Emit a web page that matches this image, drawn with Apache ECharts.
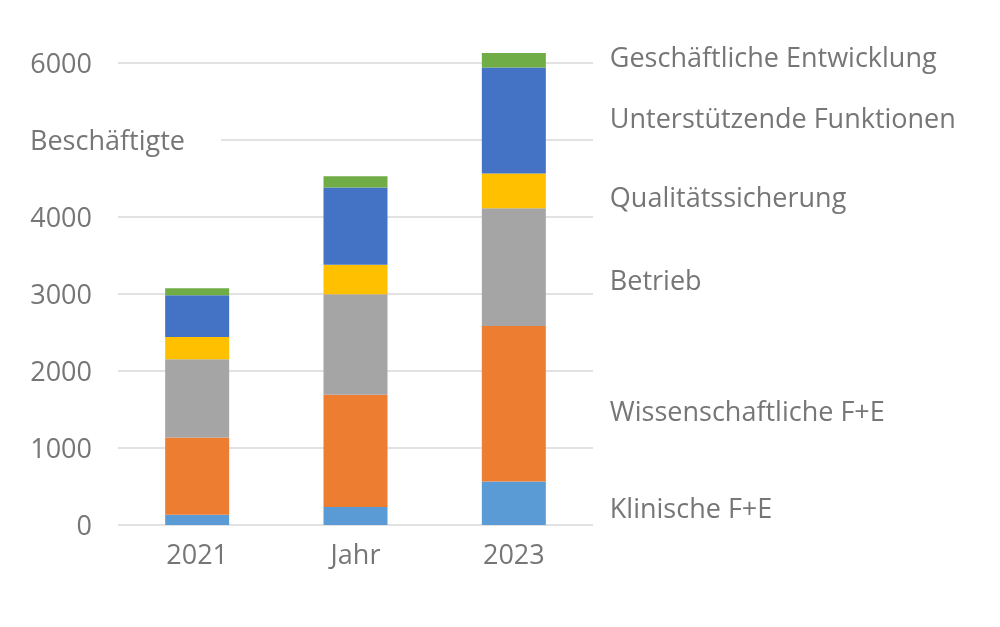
<!DOCTYPE html>
<html>
<head>
<meta charset="utf-8">
<script src="https://cdn.jsdelivr.net/npm/echarts@6/dist/echarts.min.js"></script>
<style>
html,body{margin:0;padding:0;background:#fff;}
#chart{width:1000px;height:627px;}
</style>
</head>
<body>
<div id="chart"></div>
<script>
const categories = ["2021", "Jahr", "2023"];
const seriesNames = ["Klinische F+E", "Wissenschaftliche F+E", "Betrieb", "Qualitätssicherung", "Unterstützende Funktionen", "Geschäftliche Entwicklung"];
const klinische = [134, 233, 565];
const wissenschaftliche = [1003, 1457, 2020];
const betrieb = [1017, 1307, 1530];
const qualitaet = [286, 383, 450];
const unterstuetzend = [545, 1004, 1375];
const geschaeftlich = [89, 146, 190];
const yTicks = [0, 1000, 2000, 3000, 4000, 5000, 6000];
const yAxisTitle = "Beschäftigte";

const colors = ["#5B9BD5", "#ED7D31", "#A5A5A5", "#FFC000", "#4472C4", "#70AD47"];
const labelOffsets = [7, 10, 15, 8, 0, -1];
const values = [klinische, wissenschaftliche, betrieb, qualitaet, unterstuetzend, geschaeftlich];
const FONT = "Open Sans";
const FS = 27;
const TXT = "#767676";

const chart = echarts.init(document.getElementById('chart'));
chart.setOption({
  animation: false,
  grid: {left: 118, right: 407, top: 63, bottom: 102},
  xAxis: {
    type: 'category',
    data: categories,
    axisLine: {show: false},
    axisTick: {show: false},
    axisLabel: {color: TXT, fontFamily: FONT, fontSize: FS, margin: 18}
  },
  yAxis: {
    type: 'value',
    min: yTicks[0], max: yTicks[yTicks.length - 1], interval: 1000,
    axisLine: {show: false},
    axisTick: {show: false},
    splitLine: {lineStyle: {color: '#d9d9d9', width: 1.5}},
    axisLabel: {
      align: 'left',
      margin: 88,
      formatter: v => v === 5000 ? '{b|' + yAxisTitle + '}' : '{n|' + v + '}',
      rich: {
        n: {width: 62, align: 'right', color: TXT, fontFamily: FONT, fontSize: FS, padding: [4, 0, 0, 0]},
        b: {color: TXT, fontFamily: FONT, fontSize: FS, backgroundColor: '#fff', padding: [6, 36, 2, 0]}
      }
    }
  },
  series: seriesNames.map((name, s) => ({
    name: name,
    type: 'bar',
    stack: 'total',
    barWidth: 64,
    clip: false,
    itemStyle: {color: colors[s]},
    data: values[s].map((v, i) => i === categories.length - 1 ? {
      value: v,
      label: {
        show: true, position: 'right', distance: 64,
        offset: [0, labelOffsets[s]],
        formatter: name, color: TXT, fontFamily: FONT, fontSize: FS
      }
    } : v)
  }))
});
</script>
</body>
</html>
